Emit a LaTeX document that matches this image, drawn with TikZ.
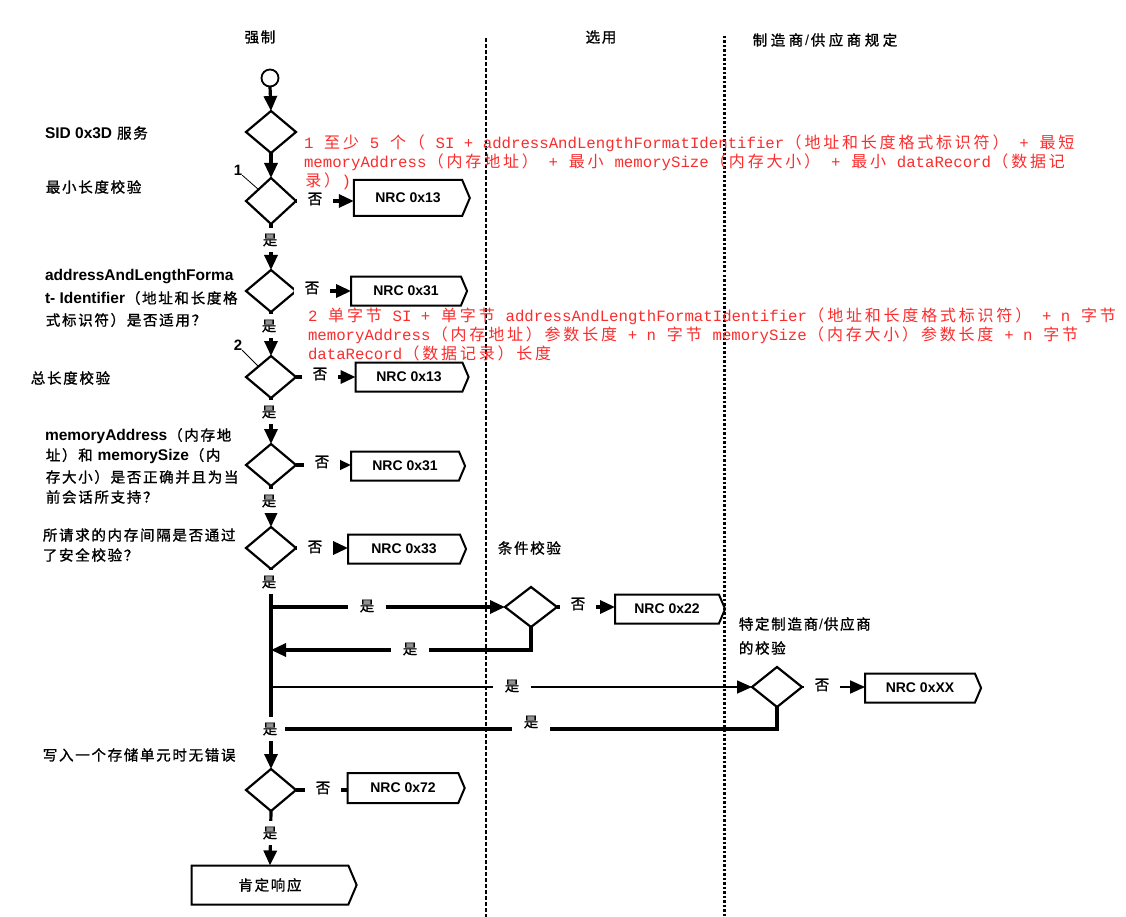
\documentclass[tikz,border=0pt]{standalone}
\usepackage{fontspec}
\setmainfont{Liberation Sans}
\newfontfamily\cjkfont[FakeBold=1.2]{Noto Sans CJK SC}
\newfontfamily\cjknote{Noto Sans CJK SC}
\newfontfamily\monofont{Liberation Mono}
\usetikzlibrary{shapes.geometric,shapes.symbols,arrows.meta}
\definecolor{note}{RGB}{250,45,45}

% CJK runs: every character in a box of fixed advance width
\newdimen\zhw \zhw=16.2pt
\def\zhloop#1{\ifx\relax#1\else\makebox[\zhw]{#1}\expandafter\zhloop\fi}
\newcommand\zh[1]{{\cjkfont\zhloop#1\relax}}
\newcommand\rz[1]{{\cjknote\fontsize{16pt}{19pt}\selectfont\zhw=18.8pt\zhloop#1\relax}}
\newcommand\lat[1]{{\fontsize{15.5pt}{18pt}\selectfont\bfseries #1}}

\begin{document}
\begin{tikzpicture}[x=1pt,y=-1pt,
  every node/.style={inner sep=0pt,outer sep=0pt},
  txt/.style={font=\fontsize{14.5pt}{17pt}\selectfont,anchor=west},
  dec/.style={diamond,draw,line width=2.2pt,minimum width=50pt,minimum height=42pt},
  nrc/.style={signal,signal to=east,signal pointer angle=134,draw,line width=2pt,
    minimum width=116pt,minimum height=29pt,font=\fontsize{14pt}{16pt}\selectfont\bfseries},
  flow/.style={line width=3.2pt},
  thinflow/.style={line width=1.6pt},
  tip/.style={-{Triangle[length=15pt,width=13pt]}},
  lab/.style={fill=white,inner xsep=10pt,inner ysep=6pt,font=\fontsize{14.5pt}{17pt}\selectfont},
  note/.style={text=note,anchor=west,font=\monofont\fontsize{15.7pt}{19pt}\selectfont},
  lane1/.style={line width=2pt,dash pattern=on 4pt off 2pt},
  lane2/.style={line width=3pt,dash pattern=on 2.5pt off 2pt},
  refmark/.style={font=\fontsize{15pt}{17pt}\selectfont\bfseries}]
\fill[white] (0,0) rectangle (1126,917);
\useasboundingbox (0,0) rectangle (1126,917);

% lane separators
\draw[lane1] (486,38) -- (486,917);
\draw[lane2] (724,36) -- (724,917);

% lane headings
\node[txt,anchor=center] (h1) at (260,37) {\zh{强制}};
\node[txt,anchor=center] (h2) at (601,37) {\zh{选用}};
\node[txt] (h3) at (751,40) {\zhw=18pt\zh{制造商}/\zh{供应商规定}};

% left-hand descriptions
\node[txt] (t1) at (45,133) {\lat{SID 0x3D} \zh{服务}};
\node[txt] (t2) at (45,187) {\zh{最小长度校验}};
\node[txt] (t3a) at (45,277) {\lat{addressAndLengthForma}};
\node[txt] (t3b) at (45,298) {\lat{t- Identifier}\zh{（地址和长度格}};
\node[txt] (t3c) at (45,320) {\zh{式标识符）是否适用？}};
\node[txt] (t4) at (30,378) {\zh{总长度校验}};
\node[txt] (t5a) at (45,436) {\lat{memoryAddress}\zh{（内存地}};
\node[txt] (t5b) at (45,456) {\zh{址）和} \lat{memorySize}\zh{（内}};
\node[txt] (t5c) at (45,477) {\zh{存大小）是否正确并且为当}};
\node[txt] (t5d) at (45,497) {\zh{前会话所支持？}};
\node[txt] (t6a) at (42,535) {\zh{所请求的内存间隔是否通过}};
\node[txt] (t6b) at (42,555) {\zh{了安全校验？}};
\node[txt] (t7) at (42,755) {\zh{写入一个存储单元时无错误}};
\node[txt] (c1) at (497,548) {\zh{条件校验}};
\node[txt] (c2) at (738,624) {\zh{特定制造商}/\zh{供应商}};
\node[txt] (c3) at (738,648) {\zh{的校验}};

% start and decisions
\node[circle,draw,line width=1.8pt,minimum size=17pt] (start) at (270,78) {};
\node[dec] (d1) at (271,132) {};
\node[dec,minimum height=46pt] (d2) at (271,201) {};
\node[dec] (d3) at (271,291) {};
\node[dec] (d4) at (271,377) {};
\node[dec] (d5) at (271,465) {};
\node[dec] (d6) at (271,548) {};
\node[dec,minimum width=52pt,minimum height=40pt] (d7) at (531,607) {};
\node[dec,minimum width=50pt,minimum height=40pt] (d8) at (777,687) {};
\node[dec] (d9) at (271,790) {};

% responses
\node[nrc,minimum height=36pt] (b2) at (408,198) {NRC 0x13};
\node[nrc] (b3) at (406,291) {NRC 0x31};
\node[nrc,minimum width=113pt] (b4) at (409,377) {NRC 0x13};
\node[nrc,minimum width=114pt] (b5) at (405,466) {NRC 0x31};
\node[nrc,minimum width=118pt] (b6) at (404,549) {NRC 0x33};
\node[nrc,minimum width=110pt] (b7) at (667,609) {NRC 0x22};
\node[nrc] (b8) at (920,688) {NRC 0xXX};
\node[nrc,minimum width=117pt,minimum height=30pt] (b9) at (403,788) {NRC 0x72};
\node[nrc,minimum width=165pt,minimum height=39pt,font=\fontsize{14.5pt}{17pt}\selectfont] (b10) at (270,885) {\zh{肯定响应}};

% reference marks
\node[refmark] (n1) at (238,170) {1};
\node[refmark] (n2) at (238,345) {2};
\draw[line width=0.8pt] (n1.south east) -- (d2.north west);
\draw[line width=0.8pt] (n2.south east) -- (d4.north west);

% main flow
\draw[flow,tip] (start.south) -- (d1.north);
\draw[flow,tip] (d1.south) -- (d2.north);
\draw[flow,tip] (d2.south) -- (d3.north);
\draw[flow,tip] (d3.south) -- (d4.north);
\draw[flow,tip] (d4.south) -- (d5.north);
\draw[flow,tip] (d5.south) -- (d6.north);
\draw[flow,tip] (d6.south) -- (d9.north);
\draw[flow,tip] (d9.south) -- (b10.north);

% negative outcomes
\draw[flow,tip] (d2.east) -- (d2.east -| b2.west);
\draw[flow,tip] (d3.east) -- (d3.east -| b3.west);
\draw[flow,tip] (d4.east) -- (d4.east -| b4.west);
\draw[flow,tip] (d5.east) -- (d5.east -| b5.west);
\draw[flow,tip] (d6.east) -- (d6.east -| b6.west);
\draw[flow,tip] (d7.east) -- (d7.east -| b7.west);
\draw[thinflow,tip] (d8.east) -- (d8.east -| b8.west);
\draw[flow] (d9.east) -- (d9.east -| b9.west);

% optional and supplier-specific checks
\coordinate (j1) at (271,607);
\coordinate (j2) at (271,650);
\coordinate (j3) at (271,687);
\draw[flow,tip] (j1) -- (d7.west);
\draw[flow,tip] (d7.south) |- (j2);
\draw[thinflow,tip] (j3) -- (d8.west);

% branch labels
\node[lab] (y2) at (270,240) {\zh{是}};
\node[lab] (y3) at (269,326) {\zh{是}};
\node[lab] (y4) at (269,412) {\zh{是}};
\node[lab] (y5) at (269,501) {\zh{是}};
\node[lab] (y6) at (269,582) {\zh{是}};
\node[lab,inner xsep=7pt] (yB) at (270,729) {\zh{是}};
\node[lab] (y9) at (270,833) {\zh{是}};
\draw[flow] (d8.south) |- (yB.east);
\node[lab,inner xsep=11pt] (y7a) at (367,606) {\zh{是}};
\node[lab,inner xsep=11pt] (y7b) at (410,649) {\zh{是}};
\node[lab,inner xsep=11pt] (y8a) at (512,686) {\zh{是}};
\node[lab,inner xsep=11pt] (y8b) at (531,722) {\zh{是}};

\node[lab] (no2) at (315,199) {\zh{否}};
\node[lab] (no3) at (312,288) {\zh{否}};
\node[lab] (no4) at (320,374) {\zh{否}};
\node[lab] (no5) at (322,462) {\zh{否}};
\node[lab] (no6) at (315,547) {\zh{否}};
\node[lab] (no7) at (578,604) {\zh{否}};
\node[lab] (no8) at (822,685) {\zh{否}};
\node[lab] (no9) at (323,788) {\zh{否}};

% annotations
\node[note] (r1a) at (304,143) {1 \rz{至少} 5 \rz{个（} SI + addressAndLengthFormatIdentifier\rz{（地址和长度格式标识符）} + \rz{最短}};
\node[note] (r1b) at (304,162) {memoryAddress\rz{（内存地址）} + \rz{最小} memorySize\rz{（内存大小）} + \rz{最小} dataRecord\rz{（数据记}};
\node[note] (r1c) at (304,181) {\rz{录）})};
\node[note] (r2a) at (308,316) {2 \rz{单字节} SI + \rz{单字节} addressAndLengthFormatIdentifier\rz{（地址和长度格式标识符）} + n \rz{字节}};
\node[note] (r2b) at (308,335) {memoryAddress\rz{（内存地址）参数长度} + n \rz{字节} memorySize\rz{（内存大小）参数长度} + n \rz{字节}};
\node[note] (r2c) at (308,353) {dataRecord\rz{（数据记录）长度}};
\end{tikzpicture}
\end{document}
